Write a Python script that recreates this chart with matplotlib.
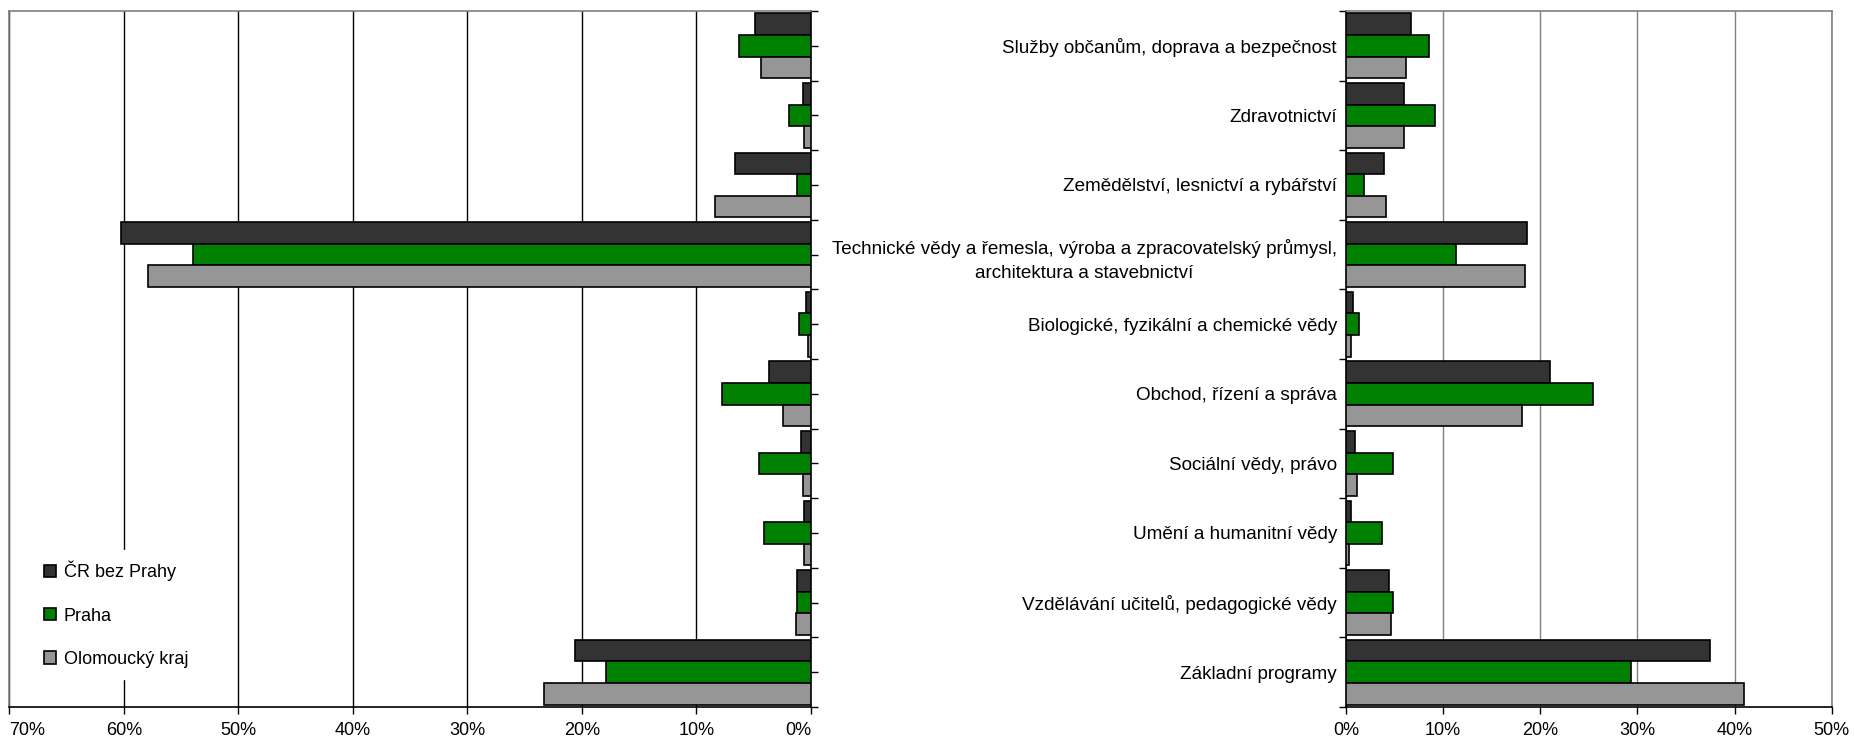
import numpy as np
import matplotlib
matplotlib.use("Agg")
import matplotlib.pyplot as plt
from matplotlib.ticker import PercentFormatter
from matplotlib.patches import Patch

plt.rcParams['font.family'] = ['Liberation Sans', 'DejaVu Sans']

# categories, top to bottom
categories = [
    "Služby občanům, doprava a bezpečnost",
    "Zdravotnictví",
    "Zemědělství, lesnictví a rybářství",
    "Technické vědy a řemesla, výroba a zpracovatelský průmysl,\narchitektura a stavebnictví",
    "Biologické, fyzikální a chemické vědy",
    "Obchod, řízení a správa",
    "Sociální vědy, právo",
    "Umění a humanitní vědy",
    "Vzdělávání učitelů, pedagogické vědy",
    "Základní programy",
]
series_names = ["ČR bez Prahy", "Praha", "Olomoucký kraj"]
series_colors = ["#333333", "#008000", "#969696"]

# left panel (%)
left_cr = [4.9, 0.7, 6.6, 60.3, 0.4, 3.7, 0.9, 0.6, 1.2, 20.6]
left_praha = [6.3, 1.9, 1.2, 54.0, 1.0, 7.8, 4.5, 4.1, 1.2, 17.9]
left_olom = [4.4, 0.6, 8.4, 57.9, 0.3, 2.4, 0.7, 0.6, 1.3, 23.3]

# right panel (%)
right_cr = [6.7, 6.0, 3.9, 18.6, 0.7, 21.0, 0.9, 0.55, 4.4, 37.5]
right_praha = [8.5, 9.2, 1.9, 11.3, 1.3, 25.4, 4.8, 3.75, 4.8, 29.3]
right_olom = [6.2, 6.0, 4.1, 18.4, 0.55, 18.1, 1.1, 0.35, 4.6, 41.0]

fig = plt.figure(figsize=(18.54, 7.42), dpi=100)
ax_l = fig.add_axes([0.0051, 0.0472, 0.4323, 0.938])
ax_r = fig.add_axes([0.726, 0.0472, 0.262, 0.938])

y = np.arange(len(categories))
h = 0.31
offsets = [-h, 0, h]


def draw_panel(ax, data, xmax, grid_color, inverted):
    for vals, off, col, name in zip(data, offsets, series_colors, series_names):
        ax.barh(y + off, vals, height=h, color=col, edgecolor="black",
                linewidth=1.2, label=name, zorder=3)
    ax.set_ylim(len(categories) - 0.5, -0.5)
    if inverted:
        ax.set_xlim(xmax, 0)
    else:
        ax.set_xlim(0, xmax)
    ax.set_xticks(np.arange(0, xmax + 1, 10))
    ax.xaxis.set_major_formatter(PercentFormatter(xmax=100, decimals=0))
    ax.grid(axis="x", color=grid_color, linewidth=1.0, zorder=0)
    ax.tick_params(axis="x", direction="out", length=5, width=1,
                   labelsize=13, pad=6, color="black")
    for s in ax.spines.values():
        s.set_color("#808080")
        s.set_linewidth(1.2)
    ax.spines["bottom"].set_color("black")


draw_panel(ax_l, [left_cr, left_praha, left_olom], 70, "black", True)
draw_panel(ax_r, [right_cr, right_praha, right_olom], 50, "#808080", False)

# keep the end labels of the left axis inside the panel
fig.canvas.draw()
lab = ax_l.get_xticklabels()
for t in lab:
    if t.get_text() == "70%":
        t.set_ha("left")
    if t.get_text() == "0%":
        t.set_ha("right")

# left panel: category axis on the right, no labels
ax_l.spines["right"].set_color("black")
ax_l.yaxis.tick_right()
ax_l.set_yticks(np.arange(-0.5, len(categories), 0.5))
ax_l.set_yticklabels([])
ax_l.tick_params(axis="y", direction="out", length=5, width=1, color="black")

# right panel: category axis on the left with labels
ax_r.spines["left"].set_color("black")
ax_r.set_yticks(y)
ax_r.set_yticklabels(categories, fontsize=13.6, multialignment="center",
                     linespacing=1.6)
ax_r.tick_params(axis="y", which="major", length=0, pad=6.5)
ax_r.set_yticks(np.arange(-0.5, len(categories), 1), minor=True)
ax_r.tick_params(axis="y", which="minor", direction="out", length=5, width=1,
                 color="black")

handles = [Patch(facecolor=c, edgecolor="black", linewidth=1.2) for c in series_colors]
leg = ax_l.legend(handles, series_names, loc="center left",
                  bbox_to_anchor=(0.03, 0.133), fontsize=13, frameon=True,
                  handlelength=0.67, handleheight=0.67, handletextpad=0.4,
                  labelspacing=1.45, borderaxespad=0, borderpad=0.6)
leg.get_frame().set_edgecolor("white")
leg.get_frame().set_facecolor("white")
leg.get_frame().set_alpha(1)
leg.set_zorder(5)

plt.savefig("out.png", dpi=100)
